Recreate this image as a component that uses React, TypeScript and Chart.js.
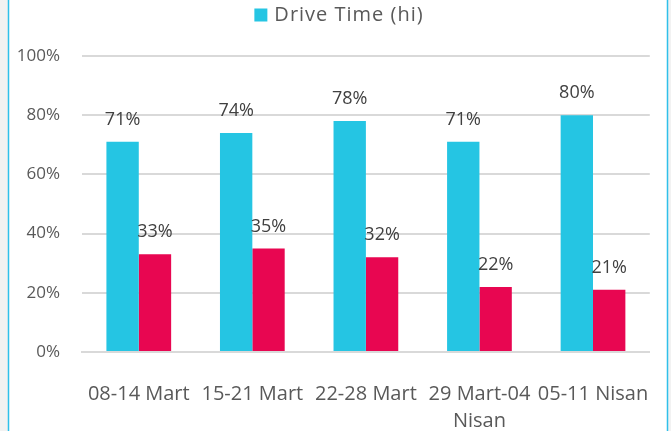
import React, { useEffect, useRef } from "react";
import { Chart, registerables } from "chart.js";

Chart.register(...registerables);

const categories: (string | string[])[] = [
  "08-14 Mart",
  "15-21 Mart",
  "22-28 Mart",
  ["29 Mart-04", "Nisan"],
  "05-11 Nisan",
];
const driveTimeHi = [71, 74, 78, 71, 80];
const secondSeries = [33, 35, 32, 22, 21];
const seriesLabels = ["Drive Time (hi)", "Drive Time (lo)"];
const yMax = 100;
const yStep = 20;

const FONT = "'Open Sans', 'DejaVu Sans', sans-serif";
const TEXT = "#595959";
const CYAN = "#25c5e3";
const RED = "#e80651";

const framePlugin = {
  id: "frame",
  beforeDraw(chart: any) {
    const { ctx, width, height } = chart;
    ctx.save();
    ctx.fillStyle = "#f2f2f2";
    ctx.fillRect(0, 0, width, height);
    ctx.fillStyle = "#ffffff";
    ctx.fillRect(8, 0, 660, height);
    ctx.strokeStyle = "#2fc0ea";
    ctx.lineWidth = 1.5;
    ctx.beginPath();
    ctx.moveTo(8.5, 0);
    ctx.lineTo(8.5, height);
    ctx.moveTo(667.5, 0);
    ctx.lineTo(667.5, height);
    ctx.stroke();
    ctx.restore();
  },
  afterDraw(chart: any) {
    // legend (only the first series is shown, as in the reference)
    const { ctx } = chart;
    const ds = chart.data.datasets[0];
    ctx.save();
    ctx.font = `20px ${FONT}`;
    (ctx as any).letterSpacing = "1px";
    const label = ds.label as string;
    const tw = ctx.measureText(label).width;
    const box = 13;
    const gap = 7;
    const total = box + gap + tw;
    const x0 = 339 - total / 2;
    const cy = 15;
    ctx.fillStyle = ds.backgroundColor;
    ctx.fillRect(x0, cy - box / 2, box, box);
    ctx.fillStyle = TEXT;
    ctx.textAlign = "left";
    ctx.textBaseline = "middle";
    ctx.fillText(label, x0 + box + gap, cy);
    ctx.restore();
  },
};

const valueLabelPlugin = {
  id: "valueLabels",
  afterDatasetsDraw(chart: any) {
    const { ctx } = chart;
    ctx.save();
    ctx.font = `18px ${FONT}`;
    ctx.fillStyle = "#404040";
    ctx.textAlign = "center";
    ctx.textBaseline = "middle";
    chart.data.datasets.forEach((ds: any, di: number) => {
      const meta = chart.getDatasetMeta(di);
      meta.data.forEach((bar: any, i: number) => {
        ctx.fillText(`${ds.data[i]}%`, bar.x, bar.y - 22);
      });
    });
    ctx.restore();
  },
};

export default function App() {
  const ref = useRef<HTMLCanvasElement | null>(null);

  useEffect(() => {
    if (!ref.current) return;
    const chart = new Chart(ref.current, {
      type: "bar",
      data: {
        labels: categories,
        datasets: [
          {
            label: seriesLabels[0],
            data: driveTimeHi,
            backgroundColor: CYAN,
            barPercentage: 1,
            categoryPercentage: 0.57,
          },
          {
            label: seriesLabels[1],
            data: secondSeries,
            backgroundColor: RED,
            barPercentage: 1,
            categoryPercentage: 0.57,
          },
        ],
      },
      options: {
        animation: false,
        responsive: false,
        maintainAspectRatio: false,
        layout: { padding: { left: 0, right: 18, top: 56, bottom: 0 } },
        plugins: {
          tooltip: { enabled: false },
          legend: { display: false },
        },
        scales: {
          x: {
            grid: { display: false },
            border: { display: true, color: "#d9d9d9", width: 2 },
            ticks: {
              color: TEXT,
              font: { family: FONT, size: 20, lineHeight: 1.35 },
              padding: 21,
              maxRotation: 0,
              autoSkip: false,
            },
            afterFit: (scale: any) => {
              scale.height = 79;
            },
          },
          y: {
            min: 0,
            max: yMax,
            grid: { color: "#d9d9d9", lineWidth: 2, drawTicks: false },
            border: { display: false },
            ticks: {
              stepSize: yStep,
              color: TEXT,
              padding: 22,
              font: { family: FONT, size: 17 },
              callback: (v: any) => `${v}%`,
            },
            afterFit: (scale: any) => {
              scale.width = 82;
            },
          },
        },
      },
      plugins: [framePlugin, valueLabelPlugin],
    });
    return () => chart.destroy();
  }, []);

  return (
    <div style={{ position: "absolute", left: 0, top: 0, width: 671, height: 431 }}>
      <canvas ref={ref} width={671} height={431} style={{ display: "block" }} />
    </div>
  );
}
